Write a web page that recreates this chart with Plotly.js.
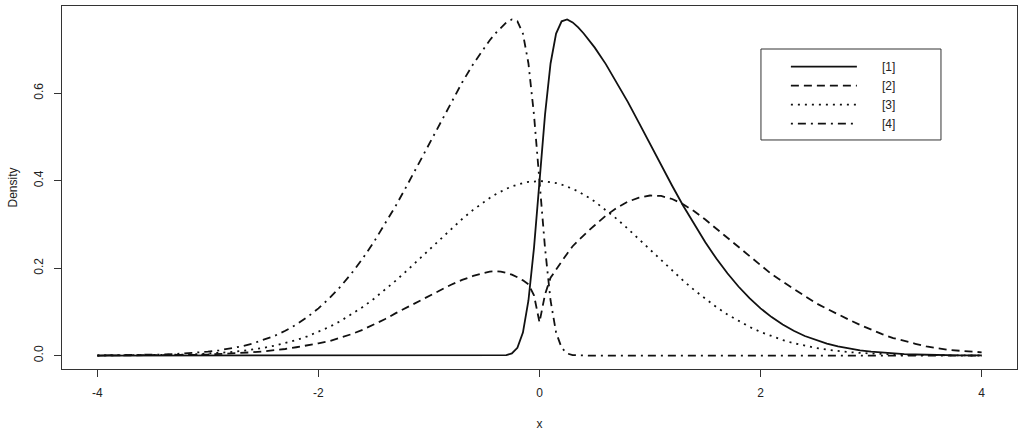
<!DOCTYPE html>
<html>
<head>
<meta charset="utf-8">
<script src="https://cdn.plot.ly/plotly-3.0.1.min.js"></script>
<style>
  html, body { margin: 0; padding: 0; background: #fff; }
  #graph { width: 1024px; height: 434px; }
</style>
</head>
<body>
<div id="graph"></div>
<script>
// x grid (finer around 0 where the curves are steep)
const xs = [
  -4.0, -3.9, -3.8, -3.7, -3.6, -3.5, -3.4, -3.3, -3.2, -3.1,
  -3.0, -2.9, -2.8, -2.7, -2.6, -2.5, -2.4, -2.3, -2.2, -2.1,
  -2.0, -1.9, -1.8, -1.7, -1.6, -1.5, -1.4, -1.3, -1.2, -1.1,
  -1.0, -0.9, -0.8, -0.7, -0.6, -0.5,
  -0.45, -0.4, -0.35, -0.3, -0.25, -0.2, -0.15, -0.1, -0.05, 0,
  0.05, 0.1, 0.15, 0.2, 0.25, 0.3, 0.35, 0.4, 0.45,
  0.5, 0.6, 0.7, 0.8, 0.9, 1.0, 1.1, 1.2, 1.3, 1.4,
  1.5, 1.6, 1.7, 1.8, 1.9, 2.0, 2.1, 2.2, 2.3, 2.4,
  2.5, 2.6, 2.7, 2.8, 2.9, 3.0, 3.1, 3.2, 3.3, 3.4,
  3.5, 3.6, 3.7, 3.8, 3.9, 4.0
];

// [1] solid
const dens1 = [
  0, 0, 0, 0, 0, 0, 0, 0, 0, 0,
  0, 0, 0, 0, 0, 0, 0, 0, 0, 0,
  0, 0, 0, 0, 0, 0, 0, 0, 0, 0,
  0, 0, 0, 0, 0, 0,
  0, 0, 0.0002, 0.0010, 0.0048, 0.0178, 0.0527, 0.1260, 0.2458, 0.3989,
  0.5510, 0.6679, 0.7363, 0.7643, 0.7685, 0.7617, 0.7503, 0.7365, 0.7211,
  0.7041, 0.6664, 0.6245, 0.5794, 0.5322, 0.4839, 0.4357, 0.3884, 0.3427, 0.2995,
  0.2590, 0.2218, 0.1881, 0.1579, 0.1312, 0.1080, 0.0880, 0.0709, 0.0567, 0.0448,
  0.0351, 0.0272, 0.0208, 0.0158, 0.0119, 0.0089, 0.0065, 0.0048, 0.0034, 0.0025,
  0.0017, 0.0012, 0.0008, 0.0006, 0.0004, 0.0003
];

// [2] dashed
const dens2 = [
  0.0001, 0.0001, 0.0002, 0.0002, 0.0003, 0.0005, 0.0007, 0.0010, 0.0013, 0.0018,
  0.0024, 0.0033, 0.0044, 0.0058, 0.0075, 0.0096, 0.012, 0.015, 0.019, 0.023,
  0.028, 0.033, 0.041, 0.049, 0.059, 0.071, 0.083, 0.097, 0.110, 0.123,
  0.137, 0.150, 0.162, 0.173, 0.182, 0.189,
  0.192, 0.193, 0.192, 0.189, 0.185, 0.179, 0.172, 0.163, 0.138, 0.076,
  0.140, 0.178, 0.198, 0.215, 0.233, 0.250, 0.263, 0.276, 0.287,
  0.298, 0.320, 0.338, 0.352, 0.361, 0.366, 0.365, 0.358, 0.346, 0.330,
  0.311, 0.290, 0.269, 0.249, 0.227, 0.205, 0.186, 0.169, 0.152, 0.136,
  0.120, 0.107, 0.094, 0.082, 0.070, 0.059, 0.049, 0.040, 0.033, 0.027,
  0.021, 0.017, 0.013, 0.011, 0.009, 0.0075
];

// [3] dotted
const dens3 = [
  0.0001, 0.0002, 0.0003, 0.0004, 0.0006, 0.0009, 0.0012, 0.0017, 0.0024, 0.0033,
  0.0044, 0.0060, 0.0079, 0.0104, 0.0136, 0.0175, 0.0224, 0.0283, 0.0355, 0.0440,
  0.0540, 0.0656, 0.0790, 0.0940, 0.1109, 0.1295, 0.1497, 0.1714, 0.1942, 0.2179,
  0.2420, 0.2661, 0.2897, 0.3123, 0.3332, 0.3521,
  0.3605, 0.3683, 0.3752, 0.3814, 0.3867, 0.3910, 0.3945, 0.3970, 0.3984, 0.3989,
  0.3984, 0.3970, 0.3945, 0.3910, 0.3867, 0.3814, 0.3752, 0.3683, 0.3605,
  0.3521, 0.3332, 0.3123, 0.2897, 0.2661, 0.2420, 0.2179, 0.1942, 0.1714, 0.1497,
  0.1295, 0.1109, 0.0940, 0.0790, 0.0656, 0.0540, 0.0440, 0.0355, 0.0283, 0.0224,
  0.0175, 0.0136, 0.0104, 0.0079, 0.0060, 0.0044, 0.0033, 0.0024, 0.0017, 0.0012,
  0.0009, 0.0006, 0.0004, 0.0003, 0.0002, 0.0001
];

// [4] dash-dot
const dens4 = [
  0.0003, 0.0004, 0.0006, 0.0008, 0.0012, 0.0017, 0.0025, 0.0034, 0.0048, 0.0065,
  0.0089, 0.0119, 0.0158, 0.0208, 0.0272, 0.0351, 0.0448, 0.0567, 0.0709, 0.0880,
  0.1080, 0.1312, 0.1579, 0.1881, 0.2218, 0.2590, 0.2995, 0.3427, 0.3884, 0.4357,
  0.4839, 0.5322, 0.5794, 0.6245, 0.6664, 0.7041,
  0.7211, 0.7365, 0.7503, 0.7617, 0.7685, 0.7643, 0.7363, 0.6679, 0.5510, 0.3989,
  0.2458, 0.1260, 0.0527, 0.0178, 0.0048, 0.0010, 0.0002, 0, 0,
  0, 0, 0, 0, 0, 0, 0, 0, 0, 0,
  0, 0, 0, 0, 0, 0, 0, 0, 0, 0,
  0, 0, 0, 0, 0, 0, 0, 0, 0, 0,
  0, 0, 0, 0, 0, 0
];

const seriesNames = ["[1]", "[2]", "[3]", "[4]"];
const xTicks = [-4, -2, 0, 2, 4];
const xTickText = ["-4", "-2", "0", "2", "4"];
const yTicks = [0, 0.2, 0.4, 0.6];
const yTickText = ["0.0", "0.2", "0.4", "0.6"];

const ink = "#111";
const dashes = ["solid", "8px,5px", "2px,5px", "2px,5px,8px,5px"];
const allDens = [dens1, dens2, dens3, dens4];
const pad = "\u00A0".repeat(6); // gap between legend line and label, as in R

const traces = allDens.map((d, i) => ({
    x: xs,
    y: d,
    type: "scatter",
    mode: "lines",
    name: pad + seriesNames[i],
    line: { color: ink, width: 1.8, dash: dashes[i] },
    hoverinfo: "skip"
}));

const axisCommon = {
    showline: true,
    linecolor: "#333",
    linewidth: 1,
    mirror: true,
    showgrid: false,
    zeroline: false,
    ticks: "outside",
    ticklen: 7,
    tickcolor: "#333",
    tickfont: { family: "Liberation Sans, Arial, sans-serif", size: 12, color: "#222" },
    tickmode: "array"
};

const layout = {
    width: 1024,
    height: 434,
    margin: { l: 62, r: 7, t: 6, b: 65 },
    paper_bgcolor: "#fff",
    plot_bgcolor: "#fff",
    font: { family: "Liberation Sans, Arial, sans-serif", size: 12, color: "#222" },
    showlegend: true,
    legend: {
        x: 0.758,
        y: 0.873,
        xanchor: "left",
        yanchor: "top",
        borderwidth: 0,
        bgcolor: "rgba(0,0,0,0)",
        font: { size: 12, color: "#222" },
        itemwidth: 66,
        tracegroupgap: 0
    },
    // legend frame, drawn as in R's legend()
    shapes: [{
        type: "rect",
        xref: "paper", yref: "paper",
        x0: 0.7319, x1: 0.9204, y0: 0.6309, y1: 0.8815,
        line: { color: "#333", width: 1 },
        fillcolor: "#fff",
        layer: "above"
    }],
    xaxis: {
        ...axisCommon,
        range: [-4.32, 4.32],
        tickvals: xTicks,
        ticktext: xTickText,
        ticklabelstandoff: 6,
        title: { text: "x", standoff: 20, font: { size: 12 } }
    },
    yaxis: {
        ...axisCommon,
        range: [-0.0307, 0.7993],
        tickvals: yTicks,
        ticktext: yTickText,
        tickangle: -90,
        ticklabelstandoff: 6,
        title: { text: "Density", standoff: 12, font: { size: 12 } }
    }
};

Plotly.newPlot("graph", traces, layout, { displayModeBar: false, staticPlot: true });
</script>
</body>
</html>
